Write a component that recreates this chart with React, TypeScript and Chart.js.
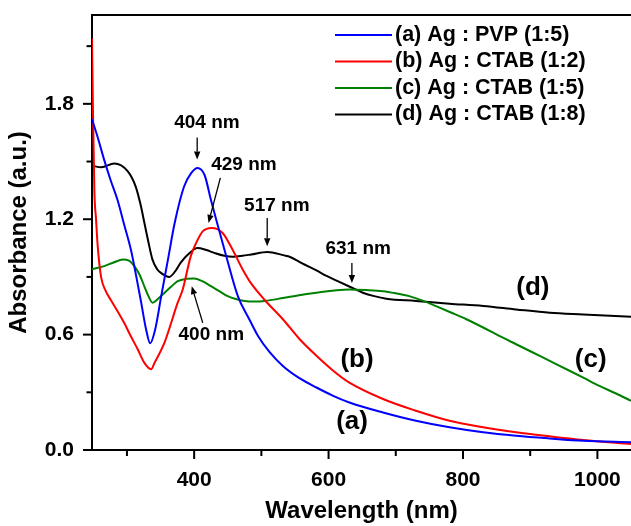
import React, { useEffect, useRef } from 'react';
import { Chart, registerables } from 'chart.js';

Chart.register(...registerables);

const FONT = "'Liberation Sans', Arial, Helvetica, sans-serif";

const seriesLabels = ['(a) Ag : PVP (1:5)', '(b) Ag : CTAB (1:2)', '(c) Ag : CTAB (1:5)', '(d) Ag : CTAB (1:8)'];
const seriesColors = ['#0000ff', '#ff0000', '#008000', '#000000'];

const pvpWl = [248, 257, 266, 276, 286, 296, 306, 314, 321, 328.5, 334.5, 342, 351, 361, 371, 385, 395.5, 405, 415.5, 425, 435, 445, 465, 482, 495, 512, 532, 556, 582, 606, 631, 681, 730, 780, 830, 879, 929, 979, 1050];
const pvpAbs = [1.72, 1.62, 1.51, 1.4, 1.3, 1.17, 1.04, 0.9, 0.77, 0.627, 0.555, 0.627, 0.8, 0.99, 1.18, 1.37, 1.44, 1.467, 1.43, 1.3, 1.17, 1.043, 0.8, 0.68, 0.593, 0.51, 0.437, 0.375, 0.325, 0.283, 0.247, 0.195, 0.152, 0.118, 0.092, 0.074, 0.06, 0.048, 0.04];

const ctab12Wl = [248, 249.5, 251.5, 254, 256.5, 261.5, 268, 276, 288, 296, 306, 316, 326, 336, 341, 356, 375.5, 383, 395, 403, 413, 426, 442, 457, 472, 484, 505, 532, 556, 582, 606, 631, 681, 730, 780, 830, 879, 929, 979, 1050];
const ctab12Abs = [2.14, 1.75, 1.35, 1.2, 1.06, 0.9, 0.83, 0.78, 0.71, 0.66, 0.59, 0.524, 0.453, 0.42, 0.453, 0.56, 0.766, 0.835, 1.008, 1.077, 1.138, 1.155, 1.13, 1.043, 0.94, 0.87, 0.78, 0.68, 0.58, 0.49, 0.415, 0.35, 0.265, 0.204, 0.152, 0.118, 0.092, 0.071, 0.052, 0.031];

const ctab15Wl = [248, 266, 280, 294, 303, 311, 319, 326, 332, 338, 346, 356, 366, 375.5, 388, 400, 412, 425, 438, 450, 462, 475, 490, 505, 532, 556, 582, 606, 631, 656, 681, 700, 720, 740, 760, 782, 805, 830, 854, 879, 904, 929, 954, 979, 1003, 1027, 1050];
const ctab15Abs = [0.94, 0.956, 0.975, 0.99, 0.985, 0.956, 0.91, 0.85, 0.8, 0.766, 0.785, 0.818, 0.85, 0.878, 0.89, 0.892, 0.878, 0.852, 0.825, 0.8, 0.785, 0.775, 0.772, 0.775, 0.79, 0.805, 0.818, 0.828, 0.835, 0.832, 0.826, 0.815, 0.8, 0.777, 0.748, 0.715, 0.68, 0.637, 0.593, 0.55, 0.507, 0.463, 0.42, 0.376, 0.333, 0.295, 0.256];

const ctab18Wl = [248, 262, 281, 301, 313, 320, 326, 332, 338, 345, 351, 363, 372, 380, 392, 405, 418, 430, 445, 458, 472, 485, 509, 534, 542, 560, 582, 597, 616, 634, 651, 668, 686, 730, 780, 830, 879, 929, 979, 1050];
const ctab18Abs = [1.478, 1.47, 1.49, 1.45, 1.37, 1.28, 1.18, 1.08, 0.99, 0.94, 0.92, 0.9, 0.93, 0.974, 1.02, 1.05, 1.04, 1.025, 1.01, 1.005, 1.01, 1.017, 1.03, 1.012, 1.005, 0.972, 0.934, 0.905, 0.874, 0.845, 0.818, 0.8, 0.787, 0.775, 0.761, 0.749, 0.731, 0.714, 0.705, 0.693];

const seriesWl = [pvpWl, ctab12Wl, ctab15Wl, ctab18Wl];
const seriesAbs = [pvpAbs, ctab12Abs, ctab15Abs, ctab18Abs];

const xMajorTicks = [400, 600, 800, 1000];
const xMinorTicks = [300, 500, 700, 900];
const yMajorTicks = [0, 0.6, 1.2, 1.8];
const yMinorTicks = [0.3, 0.9, 1.5, 2.1];

// peak annotations in data space: label centre, arrow start, arrow tip
const peakTexts = ['404 nm', '429 nm', '517 nm', '631 nm', '400 nm'];
const peakTextAt = [[419, 1.703], [474, 1.485], [523, 1.271], [644, 1.048], [425.5, 0.598]];
const peakArrowFrom = [[404.5, 1.625], [439, 1.415], [508.7, 1.207], [634.7, 0.973], [412.8, 0.661]];
const peakArrowTo = [[404.5, 1.511], [421.3, 1.181], [508.7, 1.06], [634.7, 0.869], [396.4, 0.852]];

const curveTexts = ['(a)', '(b)', '(c)', '(d)'];
const curveTextAt = [[635, 0.146], [642.4, 0.471], [990, 0.471], [904, 0.845]];

const overlayPlugin = {
  id: 'overlay',
  afterDraw(chart: any) {
    const { ctx, chartArea: ca, scales } = chart;
    const x = scales.x;
    const y = scales.y;
    ctx.save();
    ctx.strokeStyle = '#000';
    ctx.fillStyle = '#000';
    ctx.lineWidth = 2;
    const seg = (x1: number, y1: number, x2: number, y2: number) => {
      ctx.beginPath();
      ctx.moveTo(x1, y1);
      ctx.lineTo(x2, y2);
      ctx.stroke();
    };
    // top frame line
    seg(ca.left - 1, ca.top, ca.right, ca.top);
    // ticks
    xMajorTicks.forEach((v) => { const p = x.getPixelForValue(v); seg(p, ca.bottom, p, ca.bottom + 9); });
    xMinorTicks.forEach((v) => { const p = x.getPixelForValue(v); seg(p, ca.bottom, p, ca.bottom + 6); });
    yMajorTicks.forEach((v) => { const p = y.getPixelForValue(v); seg(ca.left, p, ca.left - 9, p); });
    yMinorTicks.forEach((v) => { const p = y.getPixelForValue(v); seg(ca.left, p, ca.left - 5.5, p); });

    // legend
    ctx.font = `bold 21.5px ${FONT}`;
    ctx.textAlign = 'left';
    ctx.textBaseline = 'middle';
    chart.data.datasets.forEach((ds: any, i: number) => {
      const ly = ca.top + 20 + i * 26.5;
      const lx = ca.left + 243;
      ctx.strokeStyle = ds.borderColor;
      ctx.lineWidth = 2;
      seg(lx, ly, lx + 57, ly);
      ctx.fillStyle = '#000';
      ctx.fillText(ds.label, lx + 60, ly);
    });

    // peak labels and arrows
    ctx.strokeStyle = '#000';
    ctx.fillStyle = '#000';
    ctx.lineWidth = 1.3;
    ctx.font = `bold 19px ${FONT}`;
    ctx.textAlign = 'center';
    peakTexts.forEach((t, i) => {
      ctx.fillText(t, x.getPixelForValue(peakTextAt[i][0]), y.getPixelForValue(peakTextAt[i][1]));
      const x1 = x.getPixelForValue(peakArrowFrom[i][0]);
      const y1 = y.getPixelForValue(peakArrowFrom[i][1]);
      const x2 = x.getPixelForValue(peakArrowTo[i][0]);
      const y2 = y.getPixelForValue(peakArrowTo[i][1]);
      const ang = Math.atan2(y2 - y1, x2 - x1);
      const hl = 8;
      const hw = 3.2;
      const bx = x2 - hl * Math.cos(ang);
      const by = y2 - hl * Math.sin(ang);
      seg(x1, y1, bx, by);
      ctx.beginPath();
      ctx.moveTo(x2, y2);
      ctx.lineTo(bx + hw * Math.sin(ang), by - hw * Math.cos(ang));
      ctx.lineTo(bx - hw * Math.sin(ang), by + hw * Math.cos(ang));
      ctx.closePath();
      ctx.fill();
    });

    // curve labels
    ctx.font = `bold 26px ${FONT}`;
    curveTexts.forEach((t, i) => {
      ctx.fillText(t, x.getPixelForValue(curveTextAt[i][0]), y.getPixelForValue(curveTextAt[i][1]));
    });
    ctx.restore();
  },
};

export default function App() {
  const ref = useRef<HTMLCanvasElement | null>(null);
  useEffect(() => {
    document.body.style.margin = '0';
    if (!ref.current) return;
    const chart = new Chart(ref.current, {
      type: 'line',
      data: {
        datasets: seriesLabels.map((label, i) => ({
          label,
          data: seriesWl[i].map((w, j) => ({ x: w, y: seriesAbs[i][j] })),
          borderColor: seriesColors[i],
          backgroundColor: seriesColors[i],
          borderWidth: 2,
          pointRadius: 0,
          fill: false,
          cubicInterpolationMode: 'monotone' as const,
        })),
      },
      options: {
        responsive: false,
        animation: false,
        devicePixelRatio: 1,
        layout: { padding: { top: 15, left: 0, right: 0, bottom: 0 } },
        plugins: { legend: { display: false }, tooltip: { enabled: false }, title: { display: false } },
        scales: {
          x: {
            type: 'linear',
            min: 248,
            max: 1050,
            afterBuildTicks: (s: any) => { s.ticks = xMajorTicks.map((v) => ({ value: v })); },
            afterFit: (s: any) => { s.height = 76; s.paddingLeft = 0; s.paddingRight = 0; s.paddingTop = 0; s.paddingBottom = 0; },
            grid: { display: false, drawTicks: false },
            border: { display: true, color: '#000', width: 2 },
            ticks: { color: '#000', padding: 18, font: { family: FONT, size: 21, weight: 'bold' }, maxRotation: 0, callback: (v: any) => String(v) },
            title: { display: true, text: 'Wavelength (nm)', color: '#000', padding: { top: 0, bottom: 0 }, font: { family: FONT, size: 24, weight: 'bold' } },
          },
          y: {
            type: 'linear',
            min: 0,
            max: 2.262,
            afterBuildTicks: (s: any) => { s.ticks = yMajorTicks.map((v) => ({ value: v })); },
            afterFit: (s: any) => { s.width = 92; s.paddingLeft = 0; s.paddingRight = 0; s.paddingTop = 0; s.paddingBottom = 0; },
            grid: { display: false, drawTicks: false },
            border: { display: true, color: '#000', width: 2 },
            ticks: { color: '#000', padding: 18, font: { family: FONT, size: 21, weight: 'bold' }, callback: (v: any) => Number(v).toFixed(1) },
            title: { display: true, text: 'Absorbance (a.u.)', color: '#000', padding: { top: 5, bottom: 0 }, font: { family: FONT, size: 24, weight: 'bold' } },
          },
        },
      },
      plugins: [overlayPlugin],
    });
    return () => chart.destroy();
  }, []);
  return <canvas ref={ref} width={631} height={526} style={{ display: 'block' }} />;
}
